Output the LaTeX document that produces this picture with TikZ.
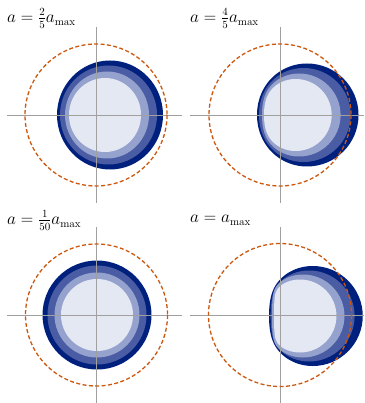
\documentclass[tikz,border=0pt]{standalone}
\usepackage{amsmath}
\definecolor{lay4}{RGB}{0,32,125}
\definecolor{lay3}{RGB}{74,92,163}
\definecolor{lay2}{RGB}{150,162,206}
\definecolor{lay1}{RGB}{228,232,243}
\definecolor{ringc}{RGB}{204,88,16}
\definecolor{axc}{RGB}{160,160,160}
\tikzset{
  axisline/.style={draw=axc, line width=0.6pt},
  ring/.style={draw=ringc, line width=1.3pt, dash pattern=on 4pt off 2.4pt},
  lbl/.style={anchor=base west, inner sep=0pt, font=\fontsize{16}{19}\selectfont},
}
% \shadowlayer{colour}{cx}{cy}{R}{leftmost x}{smoothing}
% circle of radius R whose left side is softly flattened so that it reaches only to x = leftmost
\newcommand{\shadowlayer}[6]{%
  \pgfmathsetmacro\gg{#5-(#2-#4)}%
  \pgfmathsetmacro\xl{#5-(#6*#6)/(4*\gg)}%
  \fill[#1] plot[domain=-90:90, samples=121, variable=\t]
    ({0.5*((#2-#4*cos(\t))+\xl+sqrt(((#2-#4*cos(\t))-\xl)^2+#6*#6))},
     {#3+#4*sin(\t)})
    arc[start angle=90, end angle=-90, radius=#4] -- cycle;}
\begin{document}
\begin{tikzpicture}[x=1pt,y=-1pt]
\useasboundingbox (0,0) rectangle (364,403);
% ---------- panel 1 ----------
\fill[lay4] (110,115) ellipse[x radius=53, y radius=54.5];
\fill[lay3] (108.5,115) ellipse[x radius=48.5, y radius=49.5];
\fill[lay2] (107,115) ellipse[x radius=42, y radius=43.5];
\fill[lay1] (105,115) ellipse[x radius=36, y radius=37];
\coordinate (o1) at (96,115);
\draw[axisline] (7,115) -- (182,115);
\draw[axisline] (96,27) -- (96,203);
\draw[ring] (o1) circle[radius=71];
\node[lbl] (l1) at (7,22.5) {$a=\tfrac{2}{5}a_{\max}$};
% ---------- panel 2 ----------
\shadowlayer{lay4}{306.5}{115}{51.5}{257}{12}
\shadowlayer{lay3}{303}{115}{47}{259}{12}
\shadowlayer{lay2}{298.5}{115}{41.5}{262}{10}
\shadowlayer{lay1}{295}{115}{36}{264}{10}
\coordinate (o2) at (280,115);
\draw[axisline] (190,115) -- (364,115);
\draw[axisline] (280,27) -- (280,203);
\draw[ring] (o2) circle[radius=71];
\node[lbl] (l2) at (190,22.5) {$a=\tfrac{4}{5}a_{\max}$};
% ---------- panel 3 ----------
\fill[lay4] (97,315) circle[radius=54.5];
\fill[lay3] (97,315) circle[radius=49.5];
\fill[lay2] (97,315) circle[radius=42.5];
\fill[lay1] (97,315) circle[radius=36];
\coordinate (o3) at (96.5,315);
\draw[axisline] (7,315) -- (182,315);
\draw[axisline] (96.5,227) -- (96.5,403);
\draw[ring] (o3) circle[radius=71];
\node[lbl] (l3) at (7,224.5) {$a=\tfrac{1}{50}a_{\max}$};
% ---------- panel 4 ----------
\shadowlayer{lay4}{312}{316}{50}{269}{12}
\shadowlayer{lay3}{308.5}{316}{45.5}{270.7}{10}
\shadowlayer{lay2}{302.5}{316}{41.5}{272}{8}
\shadowlayer{lay1}{299.5}{316}{36.5}{274}{7}
\coordinate (o4) at (280,315);
\draw[axisline] (190,315) -- (364,315);
\draw[axisline] (280,227) -- (280,403);
\draw[ring] (o4) circle[radius=71.5];
\node[lbl] (l4) at (190,222.5) {$a=a_{\max}$};
\end{tikzpicture}
\end{document}
